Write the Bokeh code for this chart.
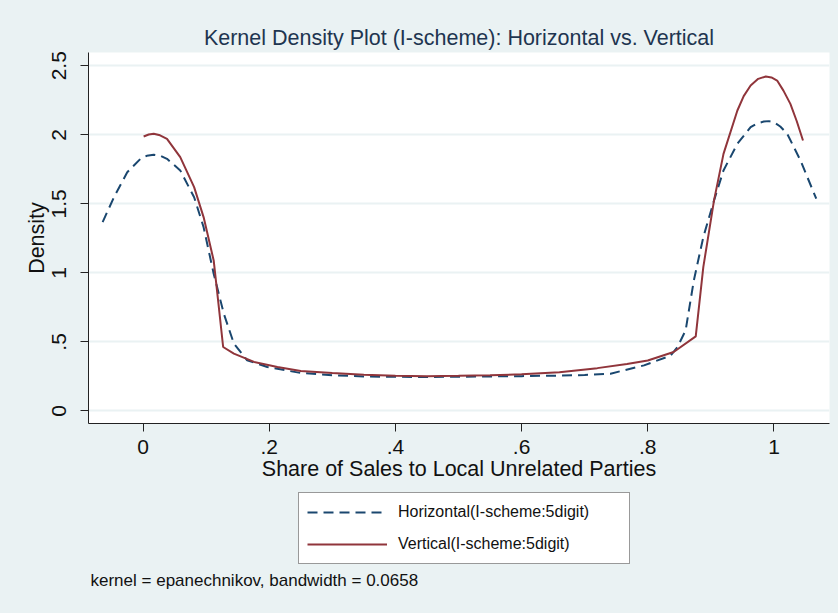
from bokeh.plotting import figure
from bokeh.layouts import column
from bokeh.models import Range1d, FixedTicker, Legend, LegendItem, Label
from bokeh.embed import file_html
from bokeh.resources import INLINE

# Horizontal (I-scheme:5digit) density estimate
horiz_x = [-0.064, -0.046, -0.025, -0.004, 0.006, 0.017, 0.028, 0.038, 0.059, 0.081,
           0.096, 0.112, 0.128, 0.144, 0.165, 0.197, 0.25, 0.30, 0.35, 0.40,
           0.45, 0.50, 0.55, 0.60, 0.66, 0.70, 0.741, 0.794, 0.836, 0.847,
           0.86, 0.873, 0.888, 0.905, 0.92, 0.942, 0.963, 0.973, 0.984, 0.992,
           1.0, 1.01, 1.021, 1.042, 1.067]
horiz_y = [1.368, 1.548, 1.729, 1.826, 1.848, 1.855, 1.847, 1.826, 1.742, 1.548,
           1.331, 0.994, 0.705, 0.488, 0.367, 0.318, 0.275, 0.258, 0.25, 0.247,
           0.246, 0.248, 0.25, 0.252, 0.256, 0.26, 0.27, 0.33, 0.40, 0.463,
           0.584, 0.946, 1.259, 1.525, 1.742, 1.935, 2.055, 2.082, 2.096, 2.099,
           2.091, 2.06, 2.007, 1.814, 1.537]

# Vertical (I-scheme:5digit) density estimate
vert_x = [0.001, 0.009, 0.017, 0.027, 0.038, 0.059, 0.081, 0.096, 0.112, 0.119,
          0.127, 0.144, 0.176, 0.213, 0.25, 0.30, 0.35, 0.40, 0.45, 0.50,
          0.55, 0.60, 0.66, 0.72, 0.767, 0.80, 0.841, 0.876, 0.888, 0.905,
          0.92, 0.942, 0.952, 0.963, 0.975, 0.987, 0.996, 1.005, 1.015, 1.026,
          1.036, 1.046]
vert_y = [1.988, 2.002, 2.007, 1.996, 1.971, 1.838, 1.621, 1.404, 1.09, 0.80,
          0.463, 0.415, 0.355, 0.318, 0.29, 0.275, 0.262, 0.254, 0.252, 0.254,
          0.258, 0.265, 0.28, 0.31, 0.34, 0.365, 0.427, 0.54, 1.042, 1.525,
          1.862, 2.176, 2.28, 2.357, 2.405, 2.422, 2.415, 2.393, 2.32, 2.224,
          2.10, 1.959]

x_ticks = [0, 0.2, 0.4, 0.6, 0.8, 1.0]
x_tick_labels = ["0", ".2", ".4", ".6", ".8", "1"]
y_ticks = [0, 0.5, 1.0, 1.5, 2.0, 2.5]
y_tick_labels = ["0", ".5", "1", "1.5", "2", "2.5"]

title_text = "Kernel Density Plot (I-scheme): Horizontal vs. Vertical"
x_title = "Share of Sales to Local Unrelated Parties"
y_title = "Density"
series_names = ["Horizontal(I-scheme:5digit)", "Vertical(I-scheme:5digit)"]
note_text = "kernel = epanechnikov, bandwidth = 0.0658"

FONT = "Liberation Sans"
BG = "#eaf2f3"
NAVY = "#1a476f"
MAROON = "#90353b"

W = 838
H_TOP = 492
H_BOT = 121

# ---- main plot ----
p = figure(width=W, height=H_TOP, output_backend="svg", toolbar_location=None,
           x_range=Range1d(-0.0864, 1.088), y_range=Range1d(-0.091, 2.596),
           min_border_left=88, min_border_right=9, min_border_top=52,
           min_border_bottom=69)
p.background_fill_color = "white"
p.border_fill_color = BG
p.outline_line_color = None

p.title.text = title_text
p.title.align = "center"
p.title.text_font = FONT
p.title.text_font_size = "21.5px"
p.title.text_font_style = "normal"
p.title.text_color = "#1e3550"
p.title.standoff = 5

p.line(horiz_x, horiz_y, line_color=NAVY, line_width=2, line_dash="10 6")
p.line(vert_x, vert_y, line_color=MAROON, line_width=2)

for ax in (p.xaxis[0], p.yaxis[0]):
    ax.axis_line_color = "#222222"
    ax.major_tick_line_color = "#222222"
    ax.major_tick_out = 8
    ax.major_tick_in = 0
    ax.minor_tick_line_color = None
    ax.major_label_text_font = FONT
    ax.major_label_text_font_size = "21px"
    ax.major_label_text_color = "#111111"
    ax.axis_label_text_font = FONT
    ax.axis_label_text_font_size = "21.5px"
    ax.axis_label_text_font_style = "normal"
    ax.axis_label_text_color = "#111111"

p.xaxis.ticker = FixedTicker(ticks=x_ticks)
p.xaxis.major_label_overrides = dict(zip(x_ticks, x_tick_labels))
p.xaxis.axis_label = x_title
p.xaxis.major_label_standoff = 8
p.xaxis.axis_label_standoff = 0

p.yaxis.ticker = FixedTicker(ticks=y_ticks)
p.yaxis.major_label_overrides = dict(zip(y_ticks, y_tick_labels))
p.yaxis.major_label_orientation = "vertical"
p.yaxis.axis_label = y_title
p.yaxis.major_label_standoff = 14
p.yaxis.axis_label_standoff = 1

p.xgrid.grid_line_color = None
p.ygrid.ticker = FixedTicker(ticks=y_ticks)
p.ygrid.grid_line_color = BG
p.ygrid.grid_line_width = 2

# ---- legend + note strip ----
q = figure(width=W, height=H_BOT, output_backend="svg", toolbar_location=None,
           x_axis_location=None, y_axis_location=None,
           min_border_left=88, min_border_right=9, min_border_top=0,
           min_border_bottom=0)
q.background_fill_color = BG
q.border_fill_color = BG
q.outline_line_color = None
q.grid.visible = False
k1 = q.line(horiz_x, horiz_y, line_color=NAVY, line_width=2, line_dash="10 6",
            visible=False)
k2 = q.line(vert_x, vert_y, line_color=MAROON, line_width=2, visible=False)

legend = Legend(items=[LegendItem(label=series_names[0], renderers=[k1]),
                       LegendItem(label=series_names[1], renderers=[k2])],
                location=(210, 49), margin=0, padding=8, spacing=10,
                glyph_width=80, glyph_height=22, label_height=22,
                label_standoff=11, label_width=223, click_policy="none",
                label_text_font=FONT, label_text_font_size="16px",
                label_text_color="#111111",
                border_line_color="#333333", border_line_width=1,
                background_fill_color="white", background_fill_alpha=1.0)
q.add_layout(legend, "center")

note = Label(x=2, y=33, x_units="screen", y_units="screen", text=note_text,
             text_font=FONT, text_font_size="17px", text_color="#111111",
             text_baseline="middle", text_align="left")
q.add_layout(note)

layout = column(p, q, spacing=0, styles={"background-color": BG})
open("out.html", "w").write(file_html(layout, INLINE))
